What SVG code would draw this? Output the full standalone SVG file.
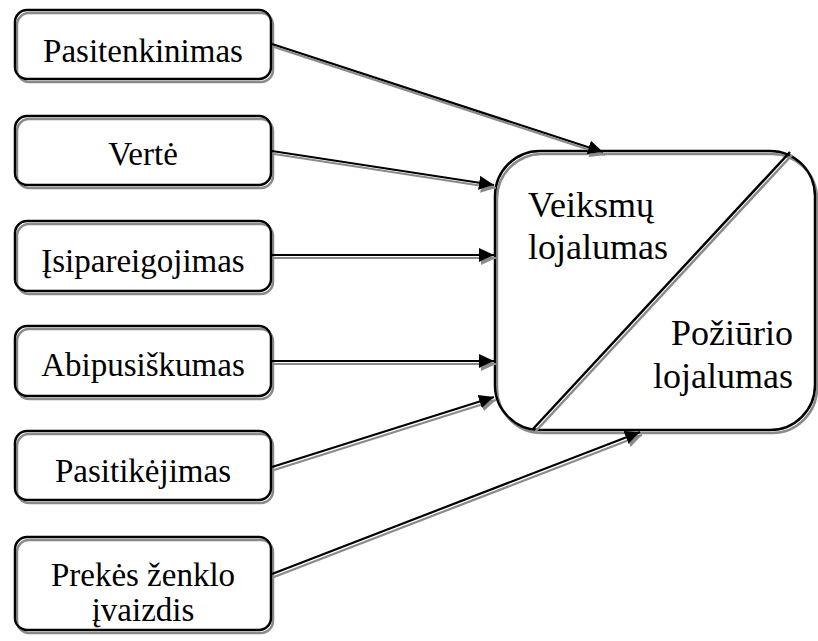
<svg xmlns="http://www.w3.org/2000/svg" width="818" height="641" viewBox="0 0 818 641">
  <defs>
    <filter id="shadow" x="-10%" y="-10%" width="130%" height="130%">
      <feDropShadow dx="2" dy="3" stdDeviation="0.4" flood-color="#8a8a8a" flood-opacity="1"/>
    </filter>
    <marker id="arrow" markerUnits="userSpaceOnUse" markerWidth="16" markerHeight="14" refX="15" refY="7" orient="auto">
      <path d="M0,0 L15,7 L0,14 z" fill="#000"/>
    </marker>
  </defs>
  <style>
    .box { fill: none; stroke: #000; stroke-width: 2.5; filter: url(#shadow); }
    .lbl { font-size: 33px; fill: #000; text-anchor: middle; }
    .big { font-size: 36px; fill: #000; }
    .conn { fill: none; stroke: #000; stroke-width: 2.2; marker-end: url(#arrow); }
  </style>
  <rect width="818" height="641" fill="#fff"/>

  <g font-family="'Liberation Serif', 'Times New Roman', serif">
    <!-- source factors -->
    <g id="pasitenkinimas">
      <rect class="box" x="15" y="10" width="256" height="69" rx="12"/>
      <text class="lbl" x="143" y="62">Pasitenkinimas</text>
    </g>
    <g id="verte">
      <rect class="box" x="15" y="116" width="256" height="69" rx="12"/>
      <text class="lbl" x="143" y="165">Vertė</text>
    </g>
    <g id="isipareigojimas">
      <rect class="box" x="15" y="221" width="256" height="70" rx="12"/>
      <text class="lbl" x="143" y="272">Įsipareigojimas</text>
    </g>
    <g id="abipusiskumas">
      <rect class="box" x="15" y="326" width="256" height="70" rx="12"/>
      <text class="lbl" x="143" y="376">Abipusiškumas</text>
    </g>
    <g id="pasitikejimas">
      <rect class="box" x="15" y="431" width="256" height="69" rx="12"/>
      <text class="lbl" x="143" y="482">Pasitikėjimas</text>
    </g>
    <g id="prekes-zenklo-ivaizdis">
      <rect class="box" x="15" y="537" width="256" height="93" rx="12"/>
      <text class="lbl" x="143" y="586">Prekės ženklo<tspan x="143" dy="35">įvaizdis</tspan></text>
    </g>

    <!-- loyalty block split by a diagonal -->
    <g id="lojalumas">
      <rect class="box" x="495" y="151" width="320" height="279" rx="45"/>
      <line class="box" x1="533" y1="429" x2="790" y2="152"/>
      <text class="big" x="528" y="217">Veiksmų<tspan x="528" dy="42">lojalumas</tspan></text>
      <text class="big" x="793" y="345" text-anchor="end">Požiūrio<tspan x="793" dy="43">lojalumas</tspan></text>
    </g>
  </g>

  <!-- connectors -->
  <g id="connectors" filter="url(#shadow)">
    <line class="conn" x1="272" y1="44" x2="603" y2="152"/>
    <line class="conn" x1="272" y1="151" x2="494" y2="185"/>
    <line class="conn" x1="272" y1="255" x2="494" y2="255"/>
    <line class="conn" x1="272" y1="361" x2="494" y2="361"/>
    <line class="conn" x1="272" y1="467" x2="494" y2="397"/>
    <line class="conn" x1="272" y1="574" x2="640" y2="432"/>
  </g>
</svg>
